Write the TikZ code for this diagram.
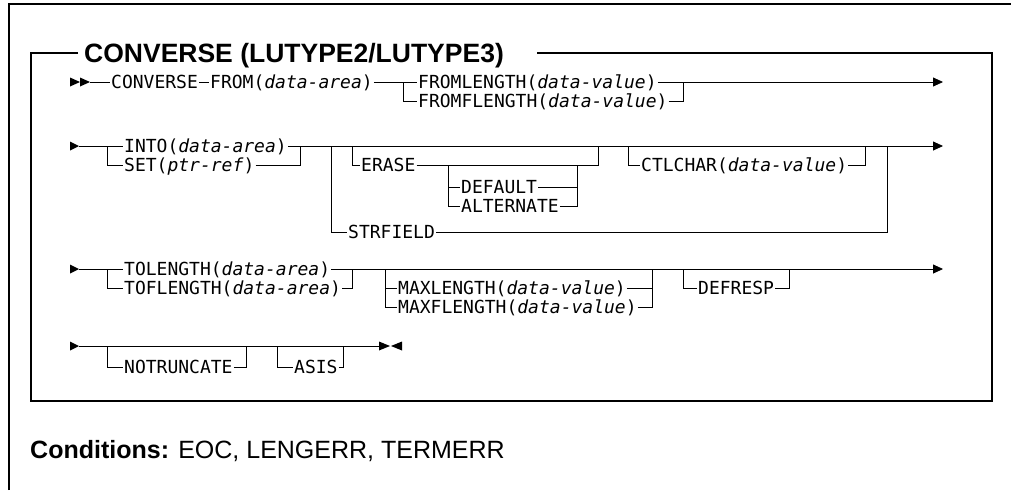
\documentclass[tikz,border=0pt]{standalone}
\usepackage{fontspec}
\setmainfont{Liberation Sans}
\newfontfamily\monof{DejaVu Sans Mono}
\usetikzlibrary{arrows.meta}
\begin{document}
\begin{tikzpicture}[x=1pt,y=-1pt,
  kw/.style={font=\monof\fontsize{18}{21}\selectfont, anchor=west, inner xsep=1pt, inner ysep=0pt, text height=13pt, text depth=0pt},
  rail/.style={line width=0.8pt},
  endarrow/.style={rail,-{Triangle[length=10pt,width=9pt]}},
  frame/.style={line width=1.4pt},
  ttl/.style={font=\bfseries\fontsize{26.5}{30}\selectfont, anchor=base west, inner sep=0pt},
  cond/.style={font=\fontsize{25}{28}\selectfont, anchor=base west, inner sep=0pt}
]
\useasboundingbox (0,0) rectangle (1011,490);
% outer frame
\draw[frame] (9,490) -- (9,4) -- (1011,4);
% inner box
\node[ttl] (title) at (84,62) {CONVERSE (LUTYPE2/LUTYPE3)};
\draw[frame] (78,53) -- (31,53) -- (31,401) -- (992,401) -- (992,53) -- (537,53);
% conditions
\node[cond] (conds) at (30,458) {\textbf{Conditions:} EOC, LENGERR, TERMERR};

% ---------- row 1
\fill (70,77.5) -- (80,82) -- (70,86.5) -- cycle;
\fill (80,77.5) -- (90,82) -- (80,86.5) -- cycle;
\coordinate (s1) at (90,82);
\node[kw] (conv) at (110,82) {CONVERSE};
\node[kw] (from) at (209,82) {FROM(\textit{data-area})};
\node[kw] (fl) at (417,82) {FROMLENGTH(\textit{data-value})};
\node[kw] (ffl) at (417,101) {FROMFLENGTH(\textit{data-value})};
\coordinate (f1) at (403,82);
\coordinate (j1) at (683,82);
\coordinate (e1) at (943,82);
\draw[rail] (s1) -- (conv);
\draw[rail] (conv) -- (from);
\draw[rail] (from) -- (fl);
\draw[rail] (f1) |- (ffl);
\draw[rail] (ffl.east) -| (j1);
\draw[endarrow] (fl) -- (e1);

% ---------- row 2
\fill (70,141.5) -- (79,146) -- (70,150.5) -- cycle;
\coordinate (s2) at (79,146);
\node[kw] (into) at (123,146) {INTO(\textit{data-area})};
\node[kw] (set) at (123,165) {SET(\textit{ptr-ref})};
\node[kw] (erase) at (360,165) {ERASE};
\node[kw] (default) at (460,187) {DEFAULT};
\node[kw] (altern) at (460,206) {ALTERNATE};
\node[kw] (ctl) at (640,165) {CTLCHAR(\textit{data-value})};
\node[kw] (strf) at (347,232) {STRFIELD};
\coordinate (f2a) at (107,146);
\coordinate (j2a) at (300,146);
\coordinate (f2s) at (331,146);
\coordinate (f2e) at (352,146);
\coordinate (j2e) at (598,146);
\coordinate (f2d) at (448,165);
\coordinate (j2d) at (577,165);
\coordinate (f2c) at (628,146);
\coordinate (j2c) at (865,146);
\coordinate (j2s) at (887,146);
\coordinate (e2) at (943,146);
\draw[rail] (s2) -- (into);
\draw[rail] (f2a) |- (set);
\draw[rail] (set.east) -| (j2a);
\draw[endarrow] (into) -- (e2);
\draw[rail] (f2s) |- (strf);
\draw[rail] (strf.east) -| (j2s);
\draw[rail] (f2e) |- (erase);
\draw[rail] (erase.east) -| (j2e);
\draw[rail] (f2d) |- (default);
\draw[rail] (f2d) |- (altern);
\draw[rail] (default.east) -| (j2d);
\draw[rail] (altern.east) -| (j2d);
\draw[rail] (f2c) |- (ctl);
\draw[rail] (ctl.east) -| (j2c);

% ---------- row 3
\fill (70,264.5) -- (79,269) -- (70,273.5) -- cycle;
\coordinate (s3) at (79,269);
\node[kw] (tol) at (123,269) {TOLENGTH(\textit{data-area})};
\node[kw] (tofl) at (123,288) {TOFLENGTH(\textit{data-area})};
\node[kw] (maxl) at (397,288) {MAXLENGTH(\textit{data-value})};
\node[kw] (maxfl) at (397,307) {MAXFLENGTH(\textit{data-value})};
\node[kw] (defr) at (697,288) {DEFRESP};
\coordinate (f3a) at (107,269);
\coordinate (j3a) at (352,269);
\coordinate (f3m) at (385,269);
\coordinate (j3m) at (652,269);
\coordinate (f3d) at (683,269);
\coordinate (j3d) at (789,269);
\coordinate (e3) at (943,269);
\draw[rail] (s3) -- (tol);
\draw[rail] (f3a) |- (tofl);
\draw[rail] (tofl.east) -| (j3a);
\draw[endarrow] (tol) -- (e3);
\draw[rail] (f3m) |- (maxl);
\draw[rail] (f3m) |- (maxfl);
\draw[rail] (maxl.east) -| (j3m);
\draw[rail] (maxfl.east) -| (j3m);
\draw[rail] (f3d) |- (defr);
\draw[rail] (defr.east) -| (j3d);

% ---------- row 4
\fill (70,341.5) -- (79,346) -- (70,350.5) -- cycle;
\coordinate (s4) at (79,346);
\coordinate (e4) at (379,346);
\node[kw] (notr) at (123,367) {NOTRUNCATE};
\node[kw] (asis) at (293,367) {ASIS};
\coordinate (f4n) at (107,346);
\coordinate (j4n) at (246,346);
\coordinate (f4a) at (277,346);
\coordinate (j4a) at (343,346);
\draw[rail] (s4) -- (e4);
\draw[rail] (f4n) |- (notr);
\draw[rail] (notr.east) -| (j4n);
\draw[rail] (f4a) |- (asis);
\draw[rail] (asis.east) -| (j4a);
\fill (379,341.5) -- (390,346) -- (379,350.5) -- cycle;
\fill (402,341.5) -- (391,346) -- (402,350.5) -- cycle;
\end{tikzpicture}
\end{document}
